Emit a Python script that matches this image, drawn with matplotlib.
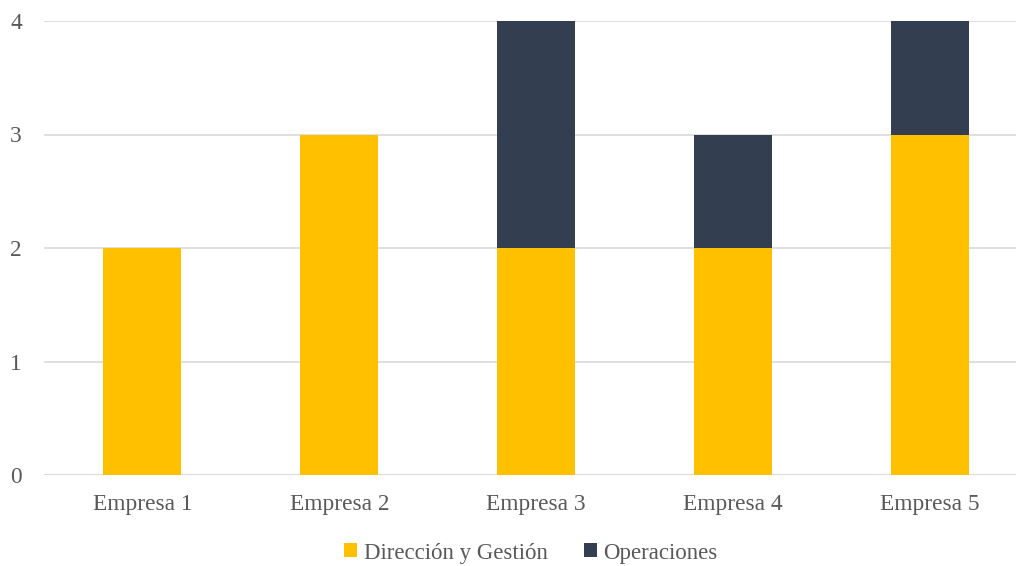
import matplotlib
matplotlib.use("Agg")
import matplotlib.pyplot as plt
import numpy as np

plt.rcParams['font.family'] = ['Liberation Serif', 'DejaVu Serif']

empresas = ["Empresa 1", "Empresa 2", "Empresa 3", "Empresa 4", "Empresa 5"]
direccion = [2, 3, 2, 2, 3]
operaciones = [0, 0, 2, 1, 1]

gris = "#595959"
fig = plt.figure(figsize=(10.16, 5.66), dpi=100)
ax = fig.add_axes([44/1016, 91/566, (1016-44)/1016, 454/566])

x = np.arange(len(empresas))
w = 0.396
b1 = ax.bar(x, direccion, w, color="#FFC000", label="Dirección y Gestión", zorder=3)
b2 = ax.bar(x, operaciones, w, bottom=direccion, color="#333F50", label="Operaciones", zorder=3)

ax.set_xlim(-0.5, 4.437)
ax.set_ylim(0, 4)
ax.set_yticks([0, 1, 2, 3, 4])
ax.yaxis.grid(True, color="#D9D9D9", linewidth=1.2, zorder=0)
for s in ax.spines.values():
    s.set_visible(False)
ax.axhline(0, color="#D9D9D9", linewidth=1.2, zorder=1)
ax.tick_params(length=0, labelsize=16.8, colors=gris)
ax.tick_params(axis="x", pad=14)
ax.tick_params(axis="y", pad=16)
ax.set_xticks(x)
ax.set_xticklabels(empresas)

fig.legend(handles=[b1, b2], loc="center", bbox_to_anchor=(531/1016, 1 - 553/566),
           ncol=2, frameon=False, fontsize=16.5, labelcolor=gris,
           handlelength=0.55, handleheight=0.55, handletextpad=0.3, columnspacing=1.6)

fig.savefig("out.png", dpi=100)
